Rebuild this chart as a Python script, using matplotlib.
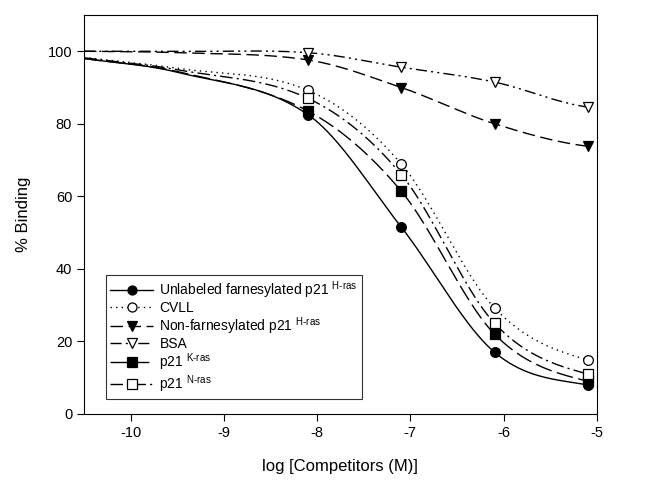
import numpy as np
import matplotlib
matplotlib.use("Agg")
import matplotlib.pyplot as plt

plt.rcParams['font.family'] = ['Liberation Sans', 'DejaVu Sans']
plt.rcParams['mathtext.fontset'] = 'custom'
plt.rcParams['mathtext.rm'] = 'Liberation Sans'
plt.rcParams['mathtext.it'] = 'Liberation Sans'

# competitor concentrations (log M)
log_conc = [-8.097, -7.097, -6.097, -5.097]

unlabeled_farn = [82.5, 51.5, 17.0, 8.0]
cvll = [89.2, 68.9, 29.2, 14.9]
non_farn = [97.6, 90.0, 80.0, 73.8]
bsa = [99.6, 95.6, 91.5, 84.6]
k_ras = [83.5, 61.4, 22.0, 9.0]
n_ras = [87.0, 66.0, 25.0, 11.0]

# where the fitted curves sit left of the data
curve_x = [-10.5, -9.5]
curve_left = [
    [98.0, 94.2],
    [98.3, 95.3],
    [100.0, 99.6],
    [100.0, 99.95],
    [98.0, 94.4],
    [98.2, 94.9],
]

labels = [
    'Unlabeled farnesylated p21 $^{\\mathrm{H\u2010ras}}$',
    'CVLL',
    'Non-farnesylated p21 $^{\\mathrm{H\u2010ras}}$',
    'BSA',
    'p21 $^{\\mathrm{K\u2010ras}}$',
    'p21 $^{\\mathrm{N\u2010ras}}$',
]


def smooth_curve(x, y, xx):
    # cubic hermite through the points, central-difference slopes
    x = np.asarray(x, float)
    y = np.asarray(y, float)
    dx = np.diff(x)
    d = np.diff(y) / dx
    m = np.zeros_like(y)
    m[1:-1] = (y[2:] - y[:-2]) / (x[2:] - x[:-2])
    m[0] = d[0]
    m[-1] = d[-1] * 0.5
    idx = np.clip(np.searchsorted(x, xx) - 1, 0, len(x) - 2)
    h = dx[idx]
    t = (xx - x[idx]) / h
    h00 = 2 * t**3 - 3 * t**2 + 1
    h10 = t**3 - 2 * t**2 + t
    h01 = -2 * t**3 + 3 * t**2
    h11 = t**3 - t**2
    return h00 * y[idx] + h10 * h * m[idx] + h01 * y[idx + 1] + h11 * h * m[idx + 1]


series = [
    (unlabeled_farn, dict(ls='-', marker='o', mfc='black')),
    (cvll, dict(ls=(0, (1, 3)), marker='o', mfc='white')),
    (non_farn, dict(ls=(0, (9, 4)), marker='v', mfc='black')),
    (bsa, dict(ls=(0, (8, 3, 1.5, 3, 1.5, 3)), marker='v', mfc='white')),
    (k_ras, dict(ls=(0, (12, 4)), marker='s', mfc='black')),
    (n_ras, dict(ls=(0, (9, 3, 1.5, 3)), marker='s', mfc='white')),
]

fig = plt.figure(figsize=(6.61, 4.83), dpi=100)
ax = fig.add_axes([0.127, 0.143, 0.776, 0.826])

xx = np.linspace(curve_x[0], log_conc[-1], 400)
handles = []
for (vals, st), left in zip(series, curve_left):
    yy = smooth_curve(curve_x + log_conc, left + vals, xx)
    ax.plot(xx, yy, color='black', lw=1.0, ls=st['ls'])
    ax.plot(log_conc, vals, ls='none', marker=st['marker'], mfc=st['mfc'],
            mec='black', ms=7, mew=0.9)
    h, = ax.plot([], [], color='black', lw=1.0, ls=st['ls'], marker=st['marker'],
                 mfc=st['mfc'], mec='black', ms=6.5, mew=0.9)
    handles.append(h)

ax.set_xlim(-10.5, -5)
ax.set_ylim(0, 110)
ax.set_xticks([-10, -9, -8, -7, -6, -5])
ax.set_xticklabels(['-10', '-9', '-8', '-7', '-6', '-5'])
ax.set_yticks([0, 20, 40, 60, 80, 100])
ax.tick_params(direction='out', length=5, labelsize=10.5)
ax.set_xlabel('log [Competitors (M)]', fontsize=12, labelpad=14)
ax.set_ylabel('% Binding', fontsize=12, labelpad=12)

leg = ax.legend(handles, labels, loc='lower left', bbox_to_anchor=(0.043, 0.037),
                frameon=True, fancybox=False, edgecolor='black', fontsize=10,
                handlelength=3.1, handletextpad=0.45, borderpad=0.3,
                borderaxespad=0, labelspacing=0.02)
leg.get_frame().set_linewidth(0.8)

fig.savefig('out.png', dpi=100)
